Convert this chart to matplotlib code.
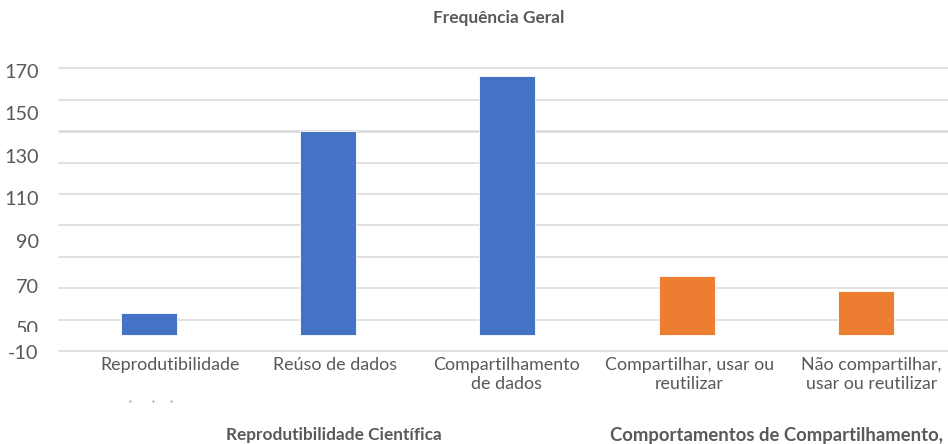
import matplotlib.pyplot as plt
from matplotlib.lines import Line2D
from matplotlib.transforms import Bbox, ScaledTranslation

# data
categories = ['Reprodutibilidade', 'Reúso de dados', 'Compartilhamento\nde dados',
              'Compartilhar, usar ou\nreutilizar', 'Não compartilhar,\nusar ou reutilizar']
values = [14, 130, 165, 38, 28.5]
groups = ['Reprodutibilidade Científica', 'Reprodutibilidade Científica', 'Reprodutibilidade Científica',
          'Comportamentos de Compartilhamento,', 'Comportamentos de Compartilhamento,']
grid_values = [-10, 10, 30, 50, 70, 90, 110, 130, 150, 170]
tick_labels = ['170', '150', '130', '110', '90', '70', '50', '-10']
# where the (misplaced) y labels sit in the original picture
tick_pos = [168.1, 141.8, 114.4, 87.6, 60.2, 31.7, 4.4, -10.4]
# horizontal shift (px) of each category label relative to its bar
label_shift = [21, 7, -1, 3, 6]

blue = '#4472C4'
orange = '#ED7D31'
gray = '#595959'
colors = [blue if g.startswith('Repro') else orange for g in groups]

plt.rcParams['font.family'] = ['Lato', 'DejaVu Sans']

fig = plt.figure(figsize=(9.48, 4.44), dpi=100)
ax = fig.add_axes([0.0627, 0.2079, 0.945, 0.6383])

for v in grid_values:
    lw = 1.8 if v == 130 else 1.1
    ax.axhline(v, color='#d9d9d9', lw=lw, zorder=0, clip_on=False)

x = list(range(len(categories)))
ax.bar(x, values, width=0.3125, color=colors, edgecolor='white', linewidth=0.6, zorder=2)

ax.set_xlim(-0.5, len(categories) - 0.5)
ax.set_ylim(-10, 170)
for s in ax.spines.values():
    s.set_visible(False)

ax.set_xticks(x, categories)
ax.tick_params(axis='x', length=0, pad=4, labelsize=12.9, labelcolor=gray)
for t, dx in zip(ax.get_xticklabels(), label_shift):
    t.set_linespacing(1.2)
    t.set_transform(t.get_transform() + ScaledTranslation(dx / 100, 0, fig.dpi_scale_trans))

ax.set_yticks(tick_pos, tick_labels)
ax.tick_params(axis='y', length=0, pad=15, labelsize=14.3, labelcolor=gray)
# the "50" label is cut off at the bottom in the original
lab50 = ax.get_yticklabels()[6]
lab50.set_clip_box(Bbox.from_extents(0, 444 - 332, 60, 444))
lab50.set_clip_on(True)

fig.text(499 / 948, 1 - 18 / 444, 'Frequência Geral', ha='center', va='center',
         fontsize=12.4, fontweight='bold', color=gray)
fig.text(334 / 948, 1 - 435 / 444, groups[0], ha='center', va='center',
         fontsize=12.4, fontweight='bold', color=gray)
fig.text(776 / 948, 1 - 435 / 444, groups[3], ha='center', va='center',
         fontsize=13.3, fontweight='bold', color=gray)
fig.add_artist(Line2D([130 / 948, 152.7 / 948, 171 / 948], [1 - 401 / 444] * 3,
                      transform=fig.transFigure, ls='none', marker='s',
                      markersize=1.3, color='#9a9a9a', markeredgewidth=0))

fig.savefig('out.png', dpi=100)
